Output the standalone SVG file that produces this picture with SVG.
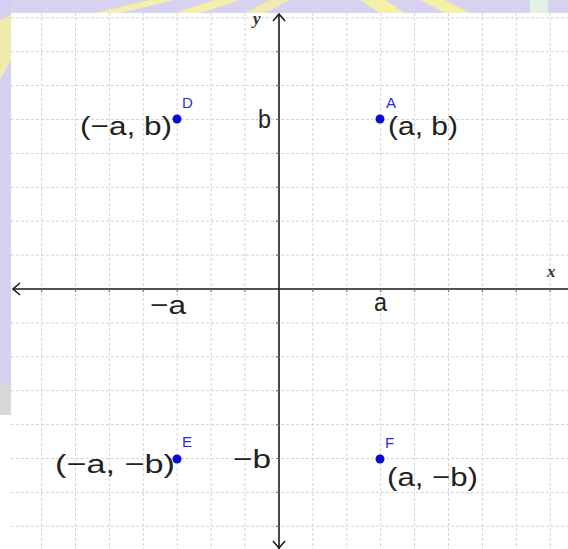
<svg xmlns="http://www.w3.org/2000/svg" width="568" height="549" viewBox="0 0 568 549">
<style>
.grid{stroke:#d4d4d4;stroke-width:1;stroke-dasharray:3 2;fill:none}
.axis{stroke:#1a1a1a;stroke-width:1.6;fill:none}
.tick{stroke:#777;stroke-width:1.2}
.lbl{font-family:"Liberation Sans",Arial,sans-serif;font-size:26px;fill:#222}
.plbl{font-family:"Liberation Sans",Arial,sans-serif;font-size:15px;fill:#2a2ad8}
.ax{font-family:"Liberation Serif","Times New Roman",serif;font-style:italic;font-weight:bold;font-size:17px;fill:#333}
.pt{fill:#0a0ad0}
</style>
<defs>
<clipPath id="plot"><rect x="11" y="13" width="557" height="536"/></clipPath>
</defs>
<g id="background">
<rect x="0" y="0" width="568" height="549" fill="#ffffff"/>
<rect x="0" y="0" width="568" height="13" fill="#d6d2f0"/>
<polygon points="150,0 175,0 120,13 95,13" fill="#f5efa8"/>
<polygon points="215,0 240,0 200,13 175,13" fill="#f5efa8"/>
<polygon points="270,0 290,0 265,13 245,13" fill="#f2eab0"/>
<polygon points="360,0 385,0 405,13 380,13" fill="#f5efa8"/>
<polygon points="420,0 445,0 470,13 445,13" fill="#f5efa8"/>
<rect x="530" y="0" width="18" height="13" fill="#e2f3e6"/>
<rect x="0" y="0" width="11" height="385" fill="#d4d0f0"/>
<polygon points="0,20 11,15 11,60 0,80" fill="#f0ecb0"/>
<rect x="0" y="385" width="11" height="30" fill="#d8d8d8"/>
</g>
<g id="grid" clip-path="url(#plot)">
<path class="grid" d="M41.6,13V549M75.5,13V549M109.4,13V549M143.3,13V549M177.2,13V549M211.1,13V549M245,13V549M312.9,13V549M346.8,13V549M380.7,13V549M414.6,13V549M448.5,13V549M482.4,13V549M516.3,13V549M550.2,13V549"/>
<path class="grid" d="M11,17.8H568M11,51.7H568M11,85.6H568M11,119.5H568M11,153.4H568M11,187.3H568M11,221.2H568M11,255.1H568M11,322.9H568M11,356.8H568M11,390.7H568M11,424.6H568M11,458.5H568M11,492.4H568M11,526.3H568"/>
</g>
<g id="axes">
<path class="axis" d="M13,289H568"/>
<path class="axis" d="M20,283L13,289L20,295"/>
<path class="axis" d="M279,14V549"/>
<path class="axis" d="M273,21L279,14L285,21"/>
<path class="axis" d="M273,541L279,548L285,541"/>
<path class="tick" d="M276,51.7h3M276,85.6h3M276,119.5h3M276,153.4h3M276,187.3h3M276,221.2h3M276,255.1h3M276,322.9h3M276,356.8h3M276,390.7h3M276,424.6h3M276,458.5h3M276,492.4h3M276,526.3h3"/>
<path class="tick" d="M41.6,289v3M75.5,289v3M109.4,289v3M143.3,289v3M177.2,289v3M211.1,289v3M245,289v3M312.9,289v3M346.8,289v3M380.7,289v3M414.6,289v3M448.5,289v3M482.4,289v3M516.3,289v3M550.2,289v3"/>
<text class="ax" x="253" y="24">y</text>
<text class="ax" x="547" y="277">x</text>
</g>
<g id="axis-labels">
<text class="lbl" x="258" y="128" textLength="13" lengthAdjust="spacingAndGlyphs">b</text>
<text class="lbl" x="150" y="314" textLength="36" lengthAdjust="spacingAndGlyphs">−a</text>
<text class="lbl" x="374" y="311" textLength="13" lengthAdjust="spacingAndGlyphs">a</text>
<text class="lbl" x="233" y="468" textLength="38" lengthAdjust="spacingAndGlyphs">−b</text>
</g>
<g id="pointA">
<circle class="pt" cx="380" cy="119" r="4.5"/>
<text class="plbl" x="386" y="108">A</text>
<text class="lbl" x="388" y="135" textLength="70" lengthAdjust="spacingAndGlyphs">(a, b)</text>
</g>
<g id="pointD">
<circle class="pt" cx="177" cy="119" r="4.5"/>
<text class="plbl" x="182" y="108">D</text>
<text class="lbl" x="80" y="135" textLength="92" lengthAdjust="spacingAndGlyphs">(−a, b)</text>
</g>
<g id="pointE">
<circle class="pt" cx="177" cy="459" r="4.5"/>
<text class="plbl" x="182" y="447">E</text>
<text class="lbl" x="55" y="473" textLength="120" lengthAdjust="spacingAndGlyphs">(−a, −b)</text>
</g>
<g id="pointF">
<circle class="pt" cx="380" cy="459" r="4.5"/>
<text class="plbl" x="385" y="448">F</text>
<text class="lbl" x="387" y="486" textLength="91" lengthAdjust="spacingAndGlyphs">(a, −b)</text>
</g>
</svg>
